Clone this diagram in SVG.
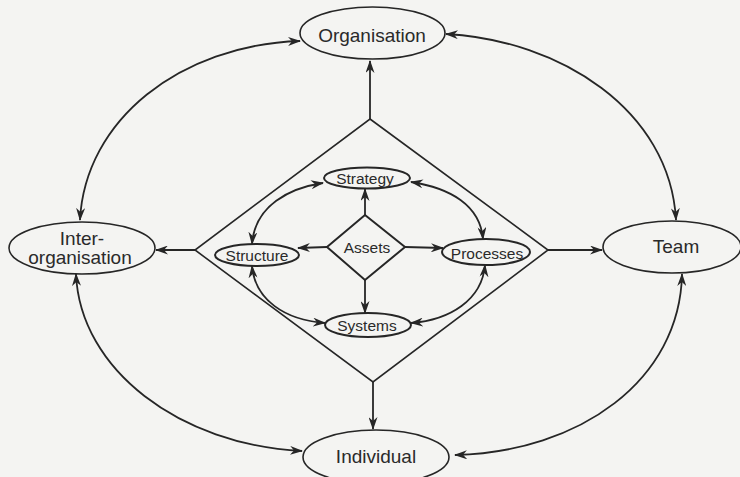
<svg xmlns="http://www.w3.org/2000/svg" width="740" height="477" viewBox="0 0 740 477">
<defs>
<marker id="ah" markerWidth="13" markerHeight="9" refX="12" refY="4.5" orient="auto-start-reverse" markerUnits="userSpaceOnUse">
<path d="M0,0 L13,4.5 L0,9 L4,4.5 z" fill="#262626"/>
</marker>
<style>
.bg{fill:#f4f4f2}
.n{fill:none;stroke:#262626;stroke-width:1.6}
.ni{fill:none;stroke:#262626;stroke-width:2}
.c{fill:none;stroke:#262626;stroke-width:1.8}
.a{marker-end:url(#ah)}
.b{marker-start:url(#ah);marker-end:url(#ah)}
.t{font-family:"Liberation Sans",Arial,sans-serif;font-size:19px;fill:#2a2a2a;text-anchor:middle}
.ti{font-family:"Liberation Sans",Arial,sans-serif;font-size:15.5px;fill:#2a2a2a;text-anchor:middle}
</style>
</defs>
<rect class="bg" x="0" y="0" width="740" height="477"/>
<g id="connectors">
<path class="c a" d="M370,119 L370,61"/>
<path class="c a" d="M195,250 L156,250"/>
<path class="c a" d="M548,250 L602,250"/>
<path class="c a" d="M373,382 L373,429"/>
<path class="c b" d="M300,41 C180,45 85,120 80,220"/>
<path class="c b" d="M446,34 C560,40 670,110 676,220"/>
<path class="c b" d="M76,274 C80,370 180,445 302,451"/>
<path class="c b" d="M682,274 C680,380 580,452 455,455"/>
<path class="c a" d="M365,215 L365,189"/>
<path class="c a" d="M327,247 L298,248"/>
<path class="c a" d="M405,247 L443,248"/>
<path class="c a" d="M365,280 L365,313"/>
<path class="c b" d="M323,183 C290,188 255,205 252,244"/>
<path class="c b" d="M411,182 C450,188 480,205 483,239"/>
<path class="c b" d="M252,266 C255,300 285,320 325,323"/>
<path class="c b" d="M485,265 C482,300 450,320 411,323"/>
</g>
<g id="frame">
<path class="n" d="M370,119 L548,250 L373,382 L195,250 Z"/>
</g>
<g id="organisation">
<ellipse class="n" cx="372.5" cy="33" rx="72.5" ry="26"/>
<text class="t" x="372" y="42">Organisation</text>
</g>
<g id="inter-organisation">
<ellipse class="n" cx="82" cy="248" rx="73" ry="26"/>
<text class="t" x="82" y="245">Inter-</text>
<text class="t" x="80" y="264">organisation</text>
</g>
<g id="team">
<ellipse class="n" cx="672" cy="247" rx="69" ry="26"/>
<text class="t" x="676" y="253">Team</text>
</g>
<g id="individual">
<ellipse class="n" cx="376" cy="457" rx="73" ry="27"/>
<text class="t" x="376" y="463">Individual</text>
</g>
<g id="strategy">
<ellipse class="ni" cx="367" cy="178" rx="43" ry="10.5"/>
<text class="ti" x="365" y="183.5">Strategy</text>
</g>
<g id="structure">
<ellipse class="ni" cx="257" cy="255" rx="42" ry="11"/>
<text class="ti" x="257" y="261">Structure</text>
</g>
<g id="processes">
<ellipse class="ni" cx="486" cy="252" rx="44" ry="13"/>
<text class="ti" x="487" y="259">Processes</text>
</g>
<g id="systems">
<ellipse class="ni" cx="368" cy="325" rx="43" ry="12"/>
<text class="ti" x="367" y="331">Systems</text>
</g>
<g id="assets">
<path class="ni" d="M365,215 L405,247 L365,280 L327,247 Z"/>
<text class="ti" x="367" y="253">Assets</text>
</g>
</svg>
